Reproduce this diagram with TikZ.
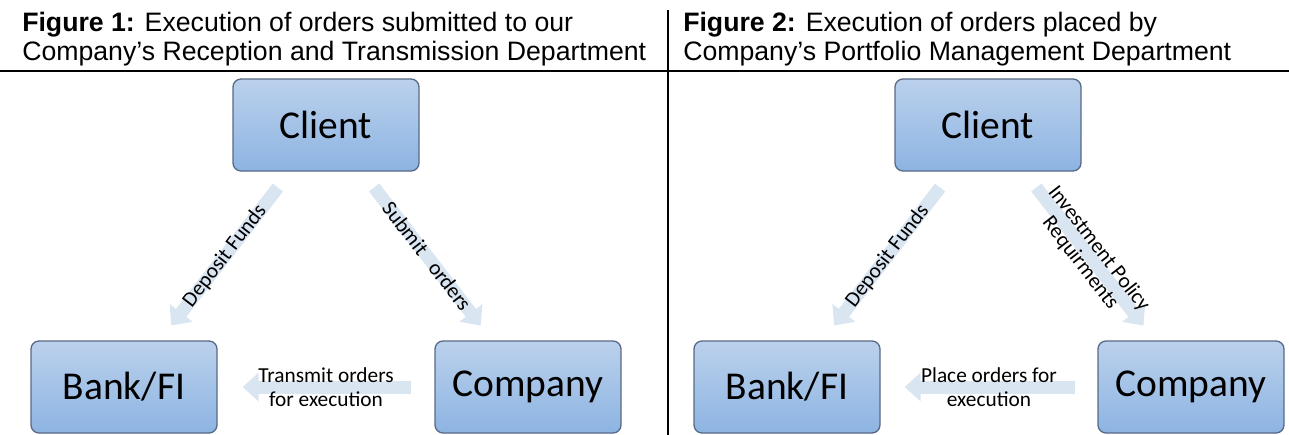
\documentclass[tikz,border=0pt]{standalone}
\usepackage{fontspec}
\setmainfont{Liberation Sans}
\newfontfamily\calibri{Carlito}
\usetikzlibrary{arrows.meta}
\definecolor{boxtop}{RGB}{187, 209, 236}
\definecolor{boxbot}{RGB}{141, 180, 226}
\definecolor{boxline}{RGB}{88, 106, 134}
\definecolor{flowfill}{RGB}{218, 229, 242}

\tikzset{
  header/.style={align=left, inner sep=0pt, font=\fontsize{20}{22.1}\selectfont},
  rule/.style={line width=1.5pt},
  party/.style={draw=boxline, line width=1pt, rounded corners=6pt,
    top color=boxtop, bottom color=boxbot,
    minimum width=139.5pt, minimum height=69pt, inner sep=0pt,
    font=\calibri\fontsize{29.6}{34}\selectfont},
  flow/.style={draw=flowfill, line width=9.75pt,
    -{Triangle[length=12pt, width=21pt]},
    shorten <=15pt, shorten >=14pt},
  flowtext/.style={sloped, align=center, inner sep=0pt,
    font=\calibri\fontsize{16}{17.6}\selectfont}
}

\begin{document}
\begin{tikzpicture}[x=0.75pt, y=-0.75pt]

  \useasboundingbox (0, 0) rectangle (1289, 435);

  % titles and frame (base is the last line)
  \node[header, anchor=base west] (title1) at (22, 61)
    {\textbf{Figure 1:} Execution of orders submitted to our\\Company's Reception and Transmission Department};
  \node[header, anchor=base west] (title2) at (683, 61)
    {\textbf{Figure 2:} Execution of orders placed by\\Company's Portfolio Management Department};
  \draw[rule] (0, 71) -- (1289, 71);
  \draw[rule] (668, 10) -- (668, 435);

  % left: reception and transmission
  \node[party] (client1) at (326, 125) {Client};
  \node[party] (bank1) at (124, 387) {Bank/FI};
  \node[party] (comp1) at (528, 387) {Company};

  \draw[flow] (client1) -- node[flowtext] {Deposit Funds} (bank1);
  \draw[flow] (client1) -- node[flowtext] {Submit\ \ \ orders} (comp1);
  \draw[flow, shorten <=17.25pt, shorten >=18.75pt] (comp1) -- node[flowtext]
    {Transmit orders\\for execution} (bank1);

  % right: portfolio management
  \node[party] (client2) at (988, 125) {Client};
  \node[party] (bank2) at (787, 387) {Bank/FI};
  \node[party] (comp2) at (1191, 387) {Company};

  \draw[flow] (client2) -- node[flowtext] {Deposit Funds} (bank2);
  \draw[flow] (client2) -- node[flowtext] {Investment Policy\\Requirments} (comp2);
  \draw[flow, shorten <=16.5pt, shorten >=18pt] (comp2) -- node[flowtext]
    {Place orders for\\execution} (bank2);

\end{tikzpicture}
\end{document}
